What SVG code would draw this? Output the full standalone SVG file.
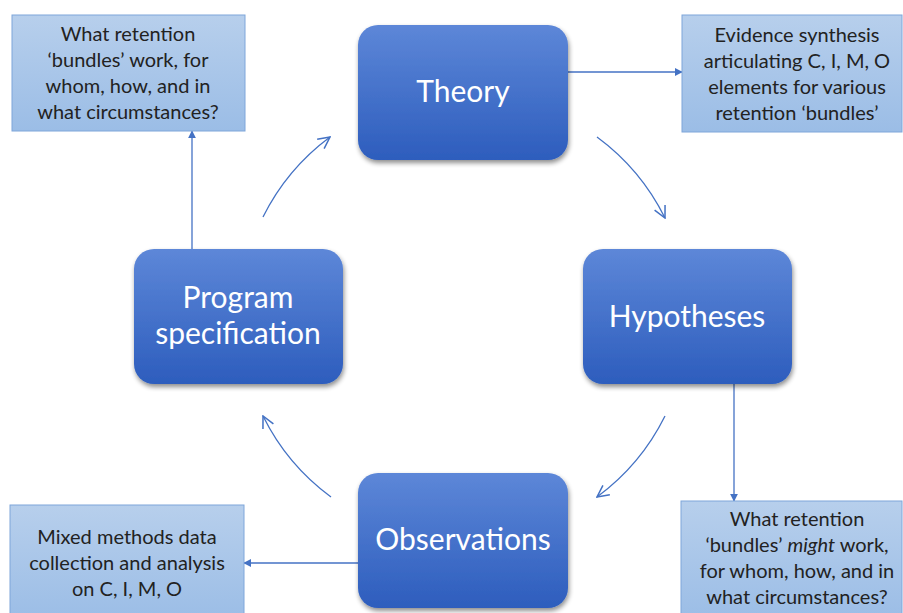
<svg xmlns="http://www.w3.org/2000/svg" width="903" height="613" viewBox="0 0 903 613">
<defs>
<linearGradient id="ng" x1="0" y1="0" x2="0" y2="1"><stop offset="0" stop-color="#5d87d8"/><stop offset="1" stop-color="#2d5dbd"/></linearGradient>
<linearGradient id="bg" x1="0" y1="0" x2="0" y2="1"><stop offset="0" stop-color="#b7cfec"/><stop offset="1" stop-color="#9bbde6"/></linearGradient>
<filter id="sh" x="-10%" y="-10%" width="125%" height="125%"><feGaussianBlur in="SourceAlpha" stdDeviation="2.5"/><feOffset dx="1" dy="3"/><feComponentTransfer><feFuncA type="linear" slope="0.45"/></feComponentTransfer><feMerge><feMergeNode/><feMergeNode in="SourceGraphic"/></feMerge></filter>
<marker id="tri" viewBox="0 0 10 10" refX="9" refY="5" markerWidth="8" markerHeight="8" markerUnits="userSpaceOnUse" orient="auto"><path d="M0,0 L10,5 L0,10 z" fill="#4472c4"/></marker>
<marker id="open" viewBox="0 0 12 12" refX="11" refY="6" markerWidth="14" markerHeight="14" markerUnits="userSpaceOnUse" orient="auto"><path d="M1,1 L11,6 L1,11" fill="none" stroke="#4472c4" stroke-width="1.3"/></marker>
</defs>
<style>
.node rect{fill:url(#ng);filter:url(#sh)}
.node text{fill:#fff;font-family:Lato,"Open Sans",sans-serif;font-size:30px;text-anchor:middle}
.box rect{fill:url(#bg);stroke:#7ea6da;stroke-width:1}
.box text{fill:#222;font-family:Lato,"Open Sans",sans-serif;font-size:20px;text-anchor:middle}
.conn path{fill:none;stroke:#4472c4;stroke-width:1.3}
</style>
<rect width="903" height="613" fill="#fff"/>
<g class="conn" id="connectors">
<path d="M568,72 H682" marker-end="url(#tri)"/>
<path d="M734,384 V501" marker-end="url(#tri)"/>
<path d="M358,563 H244" marker-end="url(#tri)"/>
<path d="M192,249 V131" marker-end="url(#tri)"/>
<path d="M263,217 A224,224 0 0 1 330,137" marker-end="url(#open)"/>
<path d="M597,137 A224,224 0 0 1 665,218" marker-end="url(#open)"/>
<path d="M665,416 A224,224 0 0 1 597,497" marker-end="url(#open)"/>
<path d="M331,497 A224,224 0 0 1 263,416" marker-end="url(#open)"/>
</g>
<g class="node" id="theory"><rect x="358" y="25" width="210" height="135" rx="20"/><text x="463" y="102">Theory</text></g>
<g class="node" id="hypotheses"><rect x="583" y="249" width="209" height="135" rx="20"/><text x="687" y="327">Hypotheses</text></g>
<g class="node" id="observations"><rect x="358" y="473" width="210" height="135" rx="20"/><text x="463" y="550">Observations</text></g>
<g class="node" id="program"><rect x="134" y="249" width="209" height="135" rx="20"/><text x="238" y="308">Program</text><text x="238" y="344">specification</text></g>
<g class="box" id="q-work"><rect x="12" y="15" width="233" height="116"/><text x="128" y="41">What retention</text><text x="128" y="67">‘bundles’ work, for</text><text x="128" y="93">whom, how, and in</text><text x="128" y="119">what circumstances?</text></g>
<g class="box" id="evidence"><rect x="682" y="15" width="220" height="117"/><text x="797" y="42">Evidence synthesis</text><text x="797" y="68">articulating C, I, M, O</text><text x="797" y="94">elements for various</text><text x="797" y="120">retention ‘bundles’</text></g>
<g class="box" id="q-might"><rect x="681" y="501" width="221" height="120"/><text x="797" y="526">What retention</text><text x="797" y="552">‘bundles’ <tspan font-style="italic">might</tspan> work,</text><text x="797" y="578">for whom, how, and in</text><text x="797" y="604">what circumstances?</text></g>
<g class="box" id="mixed"><rect x="10" y="505" width="234" height="116"/><text x="127" y="544">Mixed methods data</text><text x="127" y="570">collection and analysis</text><text x="127" y="596">on C, I, M, O</text></g>
</svg>
